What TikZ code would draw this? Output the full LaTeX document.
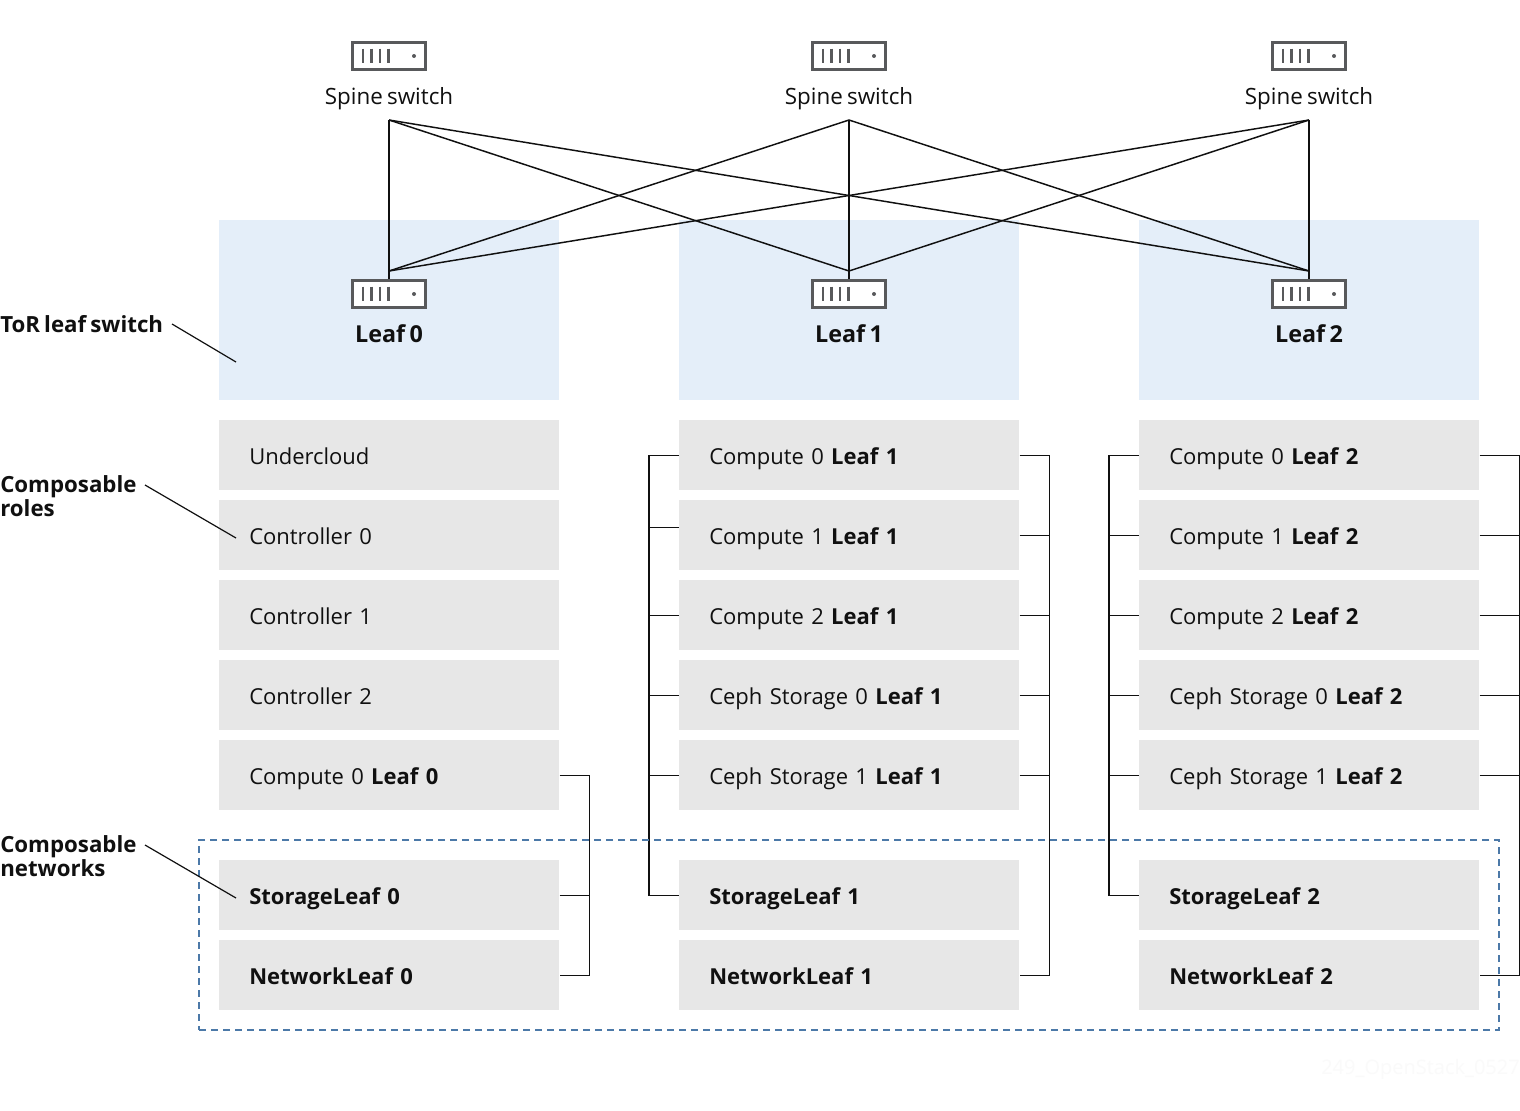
\documentclass[tikz,border=0pt]{standalone}
\usepackage{fontspec}
\setmainfont{Open Sans}[WordSpace=0.72]
\definecolor{zone}{HTML}{E4EEF9}
\definecolor{rolebox}{HTML}{E7E7E7}
\definecolor{icon}{HTML}{58595B}
\definecolor{dashblue}{HTML}{4C79A8}
\definecolor{ink}{HTML}{101010}
\tikzset{
  px/.style={x=0.75pt,y=-0.75pt},
  zonebox/.style={fill=zone,draw=none,minimum width=255pt,minimum height=135pt,inner sep=0,anchor=north west},
  rolenode/.style={fill=rolebox,draw=none,minimum width=255pt,minimum height=52.5pt,inner sep=0,anchor=north west,text=ink,font=\fontsize{16.5}{20}\selectfont,align=left,text width=210pt,inner xsep=22.5pt,text height=15pt,text depth=1.5pt},
  wire/.style={draw=ink,line width=1.1pt},
  pointer/.style={draw=ink,line width=0.9pt},
  switchbox/.style={draw=icon,fill=white,line width=1.8pt,minimum width=55pt,minimum height=20.5pt,inner sep=0},
  bar/.style={draw=icon,line width=2pt},
  caption/.style={text=ink,font=\fontsize{16.8}{20}\selectfont,inner sep=0},
  sidelabel/.style={text=ink,font=\fontsize{16.7}{18}\selectfont\bfseries,inner sep=0,anchor=north west,align=left},
  netframe/.style={draw=dashblue,line width=1.2pt,dash pattern=on 5.25pt off 3.75pt}
}
\newcommand{\switchicon}[2]{% name, cx,cy
  \node[switchbox] (#1) at (#2) {};
  \foreach \d in {-26,-17.5,-9,-0.5} \draw[bar] ([xshift=\d*0.75pt,yshift=5.5pt]#1.center) -- ([xshift=\d*0.75pt,yshift=-5.5pt]#1.center);
  \fill[icon] ([xshift=18.75pt]#1.center) circle (1.5pt);
}
\begin{document}
\begin{tikzpicture}[px]
\useasboundingbox (0,0) rectangle (1520,1110);
\fill[white] (0,0) rectangle (1520,1110);
% zones
\node[zonebox] (z0) at (219,220) {};
\node[zonebox] (z1) at (679,220) {};
\node[zonebox] (z2) at (1139,220) {};
% spine/leaf junctions
\coordinate (st0) at (389,120); \coordinate (st1) at (849,120); \coordinate (st2) at (1309,120);
\coordinate (lt0) at (389,271); \coordinate (lt1) at (849,271); \coordinate (lt2) at (1309,271);
\foreach \a in {0,1,2} \foreach \b in {0,1,2} \draw[wire] (st\a) -- (lt\b);
% icons
\switchicon{sp0}{389,56}
\switchicon{sp1}{849,56}
\switchicon{sp2}{1309,56}
\switchicon{lf0}{389,294}
\switchicon{lf1}{849,294}
\switchicon{lf2}{1309,294}
\foreach \i in {0,1,2} \draw[wire] (lt\i) -- (lf\i.north);
\node[caption] (spl0) at (389,99) {Spine switch};
\node[caption] (spl1) at (849,99) {Spine switch};
\node[caption] (spl2) at (1309,99) {Spine switch};
\node[caption,font=\fontsize{17.5}{20}\selectfont\bfseries] (ll0) at (389,334) {Leaf 0};
\node[caption,font=\fontsize{17.5}{20}\selectfont\bfseries] (ll1) at (849,334) {Leaf 1};
\node[caption,font=\fontsize{17.5}{20}\selectfont\bfseries] (ll2) at (1309,334) {Leaf 2};
% column 0
\node[rolenode] (a1) at (219,420) {Undercloud};
\node[rolenode] (a2) at (219,500) {Controller 0};
\node[rolenode] (a3) at (219,580) {Controller 1};
\node[rolenode] (a4) at (219,660) {Controller 2};
\node[rolenode] (a5) at (219,740) {Compute 0 \textbf{Leaf 0}};
\node[rolenode] (a6) at (219,860) {\textbf{StorageLeaf 0}};
\node[rolenode] (a7) at (219,940) {\textbf{NetworkLeaf 0}};
% column 1
\node[rolenode] (b1) at (679,420) {Compute 0 \textbf{Leaf 1}};
\node[rolenode] (b2) at (679,500) {Compute 1 \textbf{Leaf 1}};
\node[rolenode] (b3) at (679,580) {Compute 2 \textbf{Leaf 1}};
\node[rolenode] (b4) at (679,660) {Ceph Storage 0 \textbf{Leaf 1}};
\node[rolenode] (b5) at (679,740) {Ceph Storage 1 \textbf{Leaf 1}};
\node[rolenode] (b6) at (679,860) {\textbf{StorageLeaf 1}};
\node[rolenode] (b7) at (679,940) {\textbf{NetworkLeaf 1}};
% column 2
\node[rolenode] (c1) at (1139,420) {Compute 0 \textbf{Leaf 2}};
\node[rolenode] (c2) at (1139,500) {Compute 1 \textbf{Leaf 2}};
\node[rolenode] (c3) at (1139,580) {Compute 2 \textbf{Leaf 2}};
\node[rolenode] (c4) at (1139,660) {Ceph Storage 0 \textbf{Leaf 2}};
\node[rolenode] (c5) at (1139,740) {Ceph Storage 1 \textbf{Leaf 2}};
\node[rolenode] (c6) at (1139,860) {\textbf{StorageLeaf 2}};
\node[rolenode] (c7) at (1139,940) {\textbf{NetworkLeaf 2}};
% buses
\draw[wire] (a5.east) -- ++(30,0) |- (a7.east);
\draw[wire] (a6.east) -- ++(30,0);
\draw[wire] (b1.west) -- ++(-30,0) |- (b6.west);
\draw[wire] (b1.east) -- ++(30,0) |- (b7.east);
\draw[wire] ([yshift=6pt]b2.west) -- ++(-30,0);
\draw[wire] (b2.east) -- ++(30,0);
\foreach \r in {3,4,5} {\draw[wire] (b\r.west) -- ++(-30,0); \draw[wire] (b\r.east) -- ++(30,0);}
\draw[wire] (c1.west) -- ++(-30,0) |- (c6.west);
\draw[wire] (c1.east) -- ++(40,0) |- (c7.east);
\foreach \r in {2,3,4,5} {\draw[wire] (c\r.west) -- ++(-30,0); \draw[wire] (c\r.east) -- ++(40,0);}
% frame
\node[netframe,minimum width=975pt,minimum height=142.5pt,inner sep=0,anchor=north west] (nf) at (198.3,839.3) {};
% side labels
\node[sidelabel] (s1) at (0,315) {ToR leaf switch};
\node[sidelabel] (s2) at (0,475) {Composable\\roles};
\node[sidelabel] (s3) at (0,835) {Composable\\networks};
\coordinate (p1) at (172,324); \coordinate (q1) at (236,362);
\coordinate (p2) at (145,485); \coordinate (q2) at (236,538);
\coordinate (p3) at (145,845); \coordinate (q3) at (236,898);
\draw[pointer] (p1) -- (q1);
\draw[pointer] (p2) -- (q2);
\draw[pointer] (p3) -- (q3);
\node[text=black!2,font=\fontsize{15}{18}\selectfont,anchor=east,inner sep=0] (wm) at (1520,1069) {249\_OpenStack\_0527};
\end{tikzpicture}
\end{document}
